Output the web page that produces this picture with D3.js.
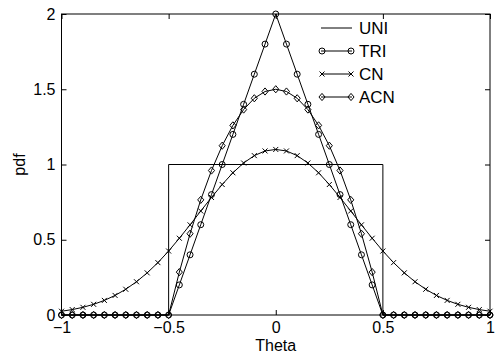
<!DOCTYPE html>
<html><head><meta charset="utf-8">
<script src="https://cdn.jsdelivr.net/npm/d3@7"></script>
<style>
html,body{margin:0;padding:0;background:#fff;}
svg text{font-family:"Liberation Sans",Arial,Helvetica,sans-serif;fill:#000;}
</style></head>
<body><svg id="c" width="501" height="355"></svg>
<script>
// ---- data ----
const theta = [-1,-0.95,-0.9,-0.85,-0.8,-0.75,-0.7,-0.65,-0.6,-0.55,-0.5,-0.45,-0.4,-0.35,-0.3,-0.25,-0.2,-0.15,-0.1,-0.05,0,
  0.05,0.1,0.15,0.2,0.25,0.3,0.35,0.4,0.45,0.5,0.55,0.6,0.65,0.7,0.75,0.8,0.85,0.9,0.95,1];
const uniX = [-1,-0.5,-0.5,0.5,0.5,1];
const uniY = [0,0,1,1,0,0];
const triY = [0,0,0,0,0,0,0,0,0,0,0,0.2,0.4,0.6,0.8,1.0,1.2,1.4,1.6,1.8,2.0,
  1.8,1.6,1.4,1.2,1.0,0.8,0.6,0.4,0.2,0,0,0,0,0,0,0,0,0,0,0];
const cnY = [0.025,0.036,0.051,0.071,0.097,0.13,0.171,0.221,0.28,0.348,0.425,0.51,0.599,0.691,0.781,0.867,0.945,1.01,1.059,1.09,1.1,
  1.09,1.059,1.01,0.945,0.867,0.781,0.691,0.599,0.51,0.425,0.348,0.28,0.221,0.171,0.13,0.097,0.071,0.051,0.036,0.025];
const acnY = [0,0,0,0,0,0,0,0,0,0,0,0.285,0.54,0.765,0.96,1.125,1.26,1.365,1.44,1.485,1.5,
  1.485,1.44,1.365,1.26,1.125,0.96,0.765,0.54,0.285,0,0,0,0,0,0,0,0,0,0,0];
const xTicks = [-1,-0.5,0,0.5,1];
const xTickLabels = ["\u22121","\u22120.5","0","0.5","1"];
const yTicks = [0,0.5,1,1.5,2];
const yTickLabels = ["0","0.5","1","1.5","2"];
const seriesNames = ["UNI","TRI","CN","ACN"];
const xLabel = "Theta", yLabel = "pdf";

// ---- layout ----
const L = 61.5, R = 490, T = 14, B = 315;
const svg = d3.select("#c");
const x = d3.scaleLinear().domain([-1,1]).range([L,R]);
const y = d3.scaleLinear().domain([0,2]).range([B,T]);

// axes box with inward ticks on all sides
const g = svg.append("g");
function styleAxis(sel, showLabels){
  sel.select(".domain").remove();
  sel.selectAll(".tick line").attr("stroke","#000").attr("stroke-width",1);
  sel.selectAll(".tick text").style("font-size","16px");
  if(!showLabels) sel.selectAll(".tick text").remove();
}
const ax = g.append("g").attr("transform",`translate(0,${B})`)
  .call(d3.axisBottom(x).tickValues(xTicks).tickSize(-5).tickPadding(7).tickFormat((d,i)=>xTickLabels[i]));
styleAxis(ax,true);
const axT = g.append("g").attr("transform",`translate(0,${T})`)
  .call(d3.axisTop(x).tickValues(xTicks).tickSize(-5));
styleAxis(axT,false);
const ay = g.append("g").attr("transform",`translate(${L},0)`)
  .call(d3.axisLeft(y).tickValues(yTicks).tickSize(-5).tickPadding(6).tickFormat((d,i)=>yTickLabels[i]));
styleAxis(ay,true);
const ayR = g.append("g").attr("transform",`translate(${R},0)`)
  .call(d3.axisRight(y).tickValues(yTicks).tickSize(-5));
styleAxis(ayR,false);
g.append("rect").attr("x",L).attr("y",T).attr("width",R-L).attr("height",B-T)
  .attr("fill","none").attr("stroke","#000").attr("stroke-width",1);

// labels
svg.append("text").attr("x",(L+R)/2).attr("y",351).attr("text-anchor","middle")
  .style("font-size","16px").text(xLabel);
svg.append("text").attr("transform",`translate(25,${(T+B)/2}) rotate(-90)`).attr("text-anchor","middle")
  .style("font-size","16px").text(yLabel);

// lines
const line = d3.line().x(d=>x(d[0])).y(d=>y(d[1]));
const plot = svg.append("g");
function drawLine(xs, ys){
  plot.append("path").datum(xs.map((v,i)=>[v,ys[i]]))
    .attr("d",line).attr("fill","none").attr("stroke","#000").attr("stroke-width",1);
}
drawLine(uniX, uniY);
drawLine(theta, triY);
drawLine(theta, cnY);
drawLine(theta, acnY);

// markers
function marker(sel, type, cx, cy){
  if(type==="circle"){
    sel.append("circle").attr("cx",cx).attr("cy",cy).attr("r",3)
      .attr("fill","none").attr("stroke","#000").attr("stroke-width",1);
  } else if(type==="diamond"){
    const s=3.6;
    sel.append("path").attr("d",`M${cx},${cy-s}L${cx+s*0.85},${cy}L${cx},${cy+s}L${cx-s*0.85},${cy}Z`)
      .attr("fill","none").attr("stroke","#000").attr("stroke-width",1);
  } else if(type==="x"){
    const s=2.5;
    sel.append("path").attr("d",`M${cx-s},${cy-s}L${cx+s},${cy+s}M${cx-s},${cy+s}L${cx+s},${cy-s}`)
      .attr("fill","none").attr("stroke","#000").attr("stroke-width",1);
  }
}
const mk = svg.append("g");
theta.forEach((t,i)=>{
  marker(mk,"circle",x(t),y(triY[i]));
  marker(mk,"x",x(t),y(cnY[i]));
  marker(mk,"diamond",x(t),y(acnY[i]));
});

// legend (no box)
const types = [null,"circle","x","diamond"];
const leg = svg.append("g");
const legY = [28,51,74,97];
seriesNames.forEach((n,i)=>{
  const yy = legY[i];
  leg.append("line").attr("x1",321).attr("x2",352).attr("y1",yy).attr("y2",yy)
    .attr("stroke","#000").attr("stroke-width",1);
  if(types[i]){ marker(leg,types[i],322,yy); marker(leg,types[i],351,yy); }
  leg.append("text").attr("x",359).attr("y",yy+6).style("font-size","17px").text(n);
});
</script></body></html>
